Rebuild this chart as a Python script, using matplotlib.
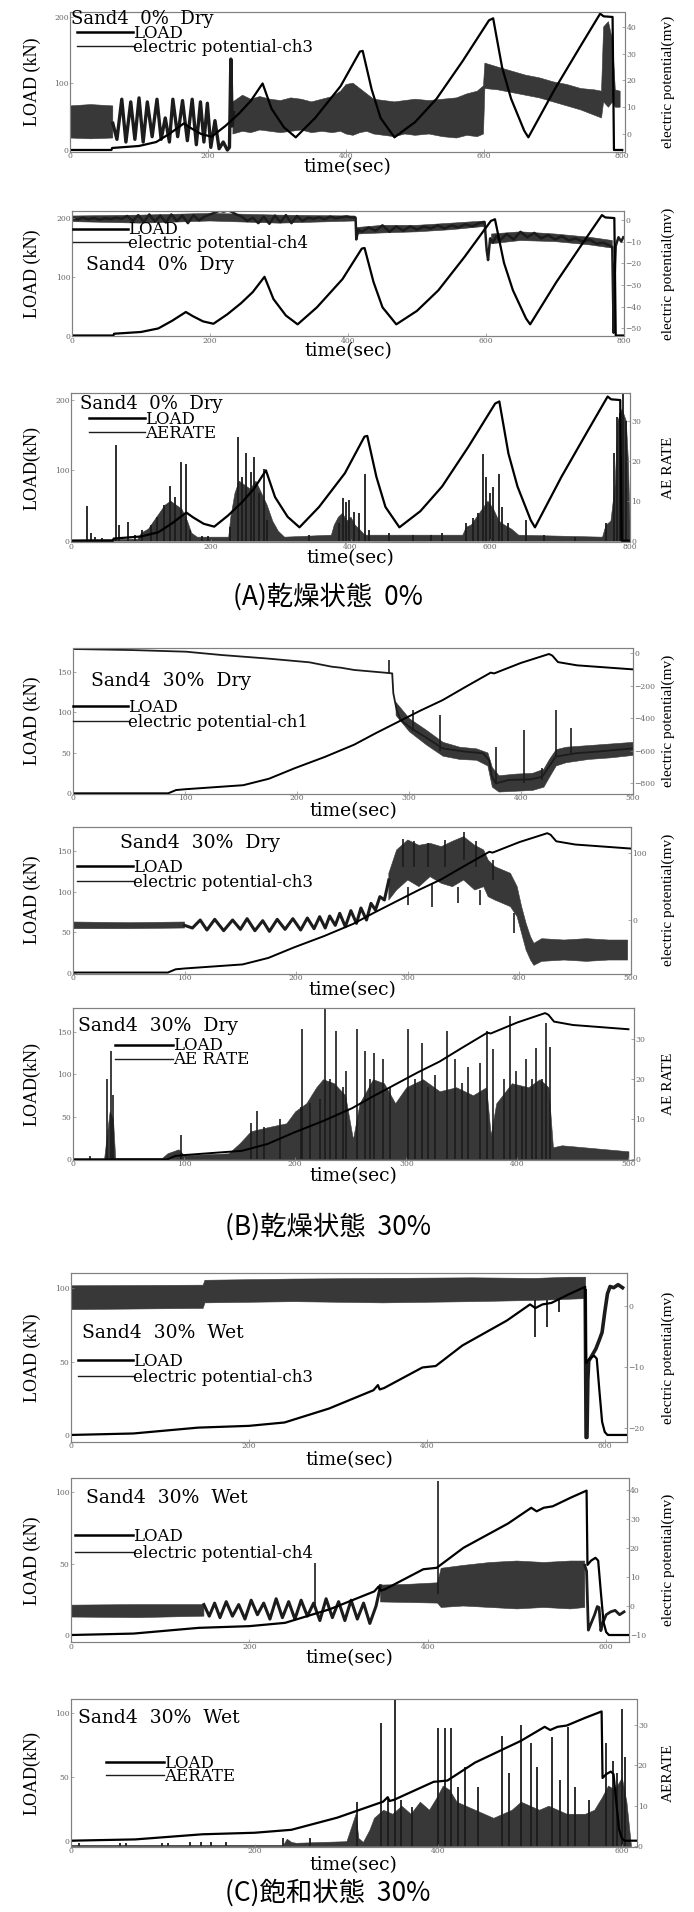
import numpy as np
import matplotlib
matplotlib.use("Agg")
import matplotlib.pyplot as plt
from matplotlib.lines import Line2D
from matplotlib.legend import Legend

nan = np.nan
plt.rcParams['font.family'] = ['DejaVu Serif']

# ================= DATA =================
# ---- Group A : Sand4 0% Dry ----
load_a_t = [0, 60, 61, 100, 125, 145, 165, 175, 190, 205, 225, 245, 262, 279, 292, 310, 327, 355, 392, 420,
            424, 437, 450, 470, 500, 531, 569, 607, 613, 626, 639, 658, 664, 702, 740, 768, 773, 786, 787, 788, 800]
load_a_v = [0, 0, 3, 6, 12, 25, 40, 33, 24, 20, 36, 55, 74, 100, 62, 34, 19, 48, 96, 148,
            149, 91, 48, 19, 42, 77, 134, 195, 198, 124, 77, 29, 19, 91, 157, 205, 201, 200, 100, 0, 0]

p1_band_t = [0, 30, 62, nan, 236, 250, 262, 275, 290, 305, 320, 335, 350, 365, 380, 392, 400, 410, 420, 430,
             440, 455, 470, 485, 500, 520, 540, 560, 575, 590, 599, 601, 620, 640, 660, 680, 700, 720, 740, 760,
             770, 773, 780, 786, 790, 797]
p1_band_lo = [-1.5, -1.8, -1.5, nan, 0, 1, 0.5, 1.5, 1, 0.5, 1, 1.5, 0.5, 1, 0.5, 1, 0, -0.5, 0.5, 1,
              0, -0.5, -1, 0, -0.5, 0, -1, -1.5, -0.5, -1, 0, 17, 16.5, 15.5, 14.5, 13.5, 12, 10.5, 9, 7,
              6, 12, 10, 12, 10, 10]
p1_band_hi = [10.5, 11, 10.5, nan, 12, 14.5, 13, 14, 13, 12.5, 13.5, 13, 12, 13, 14, 16, 18.5, 19, 17, 15,
              13, 12.5, 12, 12.5, 13, 12.5, 13, 13.5, 15, 16, 18, 26.5, 25, 23.5, 22, 21, 19.5, 18.5, 17, 16.5,
              16, 40, 42, 35, 16.5, 16]
p1_wave_t = [62, 68, 75, 81, 88, 94, 100, 106, 112, 119, 126, 132, 138, 144, 149, 156, 163, 170, 177, 183,
             189, 194, 199, 204, 210, 216, 222, 228, 231, 233, 235, 237]
p1_wave_v = [4, -2, 13, -3, 12, -2, 13.5, -3, 12, -1, 13, -2, 6, -3, 13, -1, 12.5, -2.5, 13, -4,
             12, -3, 11.5, -5, 5, -5.5, -3, -6, -5, 28, 3, 8]

p2_ep_t = [0, 8, 16, 24, 32, 40, 48, 56, 64, 72, 80, 88, 96, 104, 112, 120, 128, 136, 144, 152,
           160, 168, 176, 184, 192, 200, 208, 214, 220, 226, 232, 238, 246, 254, 262, 270, 278, 286, 294, 302,
           310, 318, 326, 334, 342, 350, 358, 366, 374, 382, 390, 398, 406, 410,
           411, 412, 415, 420, 430, 440, 450, 460, 470, 480, 490, 500, 510, 520, 530, 540, 550, 560, 570, 580,
           590, 598, 601, 603, 606, 610, 615, 620, 630, 640, 650, 660, 670, 680, 690, 700, 710, 720, 730, 740,
           750, 760, 770, 780, 783, 785, 786, 788, 792, 796, 799]
p2_ep_v = [0.8, 0.2, 1.0, 0.3, 0.9, 0.1, 0.8, 0.4, 1.0, 0.5, 1.8, -0.5, 2.2, -1.0, 2.5, -0.8, 2.0, -1.2, 2.5, -0.5,
           2.0, -1.5, 2.2, -0.2, 1.5, 2.5, 3.5, 4.2, 3.8, 4.5, 3.6, 2.5, 1.5, -0.5, 1.0, -1.5, 1.5, -1.8, 2.0, -1.0,
           2.2, -1.5, 1.8, -0.5, 1.0, 0.5, 1.2, 0.3, 1.5, 0.8, 1.2, 1.6, 1.0, 1.2,
           1.0, -9.0, -4.5, -5.5, -3.5, -5.0, -2.5, -5.5, -3.0, -5.0, -3.0, -4.5, -3.0, -4.0, -2.5, -4.0, -2.5, -3.5, -2.0, -3.0,
           -1.5, -1.0, -14, -18.5, -8.5, -10.5, -7.5, -9.5, -6.5, -9, -5.5, -8, -6, -8.5, -7, -9, -7.5, -9.5, -8.5, -10,
           -9, -11, -10.5, -12, -12.5, -52, -30, -12, -8, -10, -8]
p2_band_t = [0, 100, 200, 300, 410, nan, 413, 450, 500, 550, 598, nan, 608, 650, 700, 750, 783]
p2_band_lo = [-0.8, -1.5, -0.5, -1.5, -0.5, nan, -6.5, -6.0, -5.5, -4.5, -3.0, nan, -11, -9.5, -10, -11.5, -13]
p2_band_hi = [1.8, 2.2, 3.0, 2.2, 1.8, nan, -3.5, -2.5, -2.5, -1.5, -0.5, nan, -6.5, -5.5, -6.5, -8, -9.5]

p3_band_t = [0, 95, 100, 110, 118, 126, 134, 142, 150, 158, 166, 172, 180, 225, 228, 234, 240, 248, 256, 264,
             272, 280, 288, 296, 305, 372, 376, 382, 388, 394, 400, 406, 412, 420, 560, 565, 572, 580, 588, 596,
             604, 612, 620, 630, 640, 760, 765, 772, 778, 782, 788, 794, 797, 800]
p3_band_hi = [0.3, 0.5, 2, 3, 5, 7, 9, 10, 9, 8, 5, 2, 1, 1, 6, 12, 15, 14, 13, 15,
              12, 9, 5, 2.5, 1, 1.5, 4, 6, 7, 5, 6, 4, 3, 1.5, 1.5, 3.5, 4, 6, 8, 10,
              8, 5, 4, 3, 1.5, 1, 4, 5, 14, 30, 33, 30, 20, 0]
p3_spk_t = [23.4, 28, 35, 44, 64.5, 68, 82, 92, 102, 114, 123, 133, 142, 149, 157, 164, 171, 187, 196, 228,
            239, 245, 251, 257, 262, 269, 276, 281, 341, 383, 389, 394, 398, 405, 412, 420.5, 427, 455, 490, 515,
            531, 566, 575, 582, 589, 594, 600, 604, 612, 617, 626, 651, 677, 721, 765, 777, 781, 785, 790.5, 794]
p3_spk_v = [8.75, 1.8, 0.8, 0.6, 24, 4, 4.75, 1.4, 2.7, 4, 6, 9, 13.75, 11, 19.75, 19.2, 2.7, 1.2, 1.2, 3.5,
            25.8, 16, 22, 17.2, 21, 11.8, 17.8, 5.2, 1.4, 4.3, 10.6, 9.75, 10.2, 7.25, 6.8, 16.6, 2.7, 1.8, 1.4, 1.4,
            1.8, 4.3, 5.6, 6.8, 21.7, 16, 11.8, 13.5, 16.7, 8.5, 4.3, 5.2, 1.4, 1, 4.5, 22, 31, 32, 36.8, 30]

# ---- Group B : Sand4 30% Dry ----
load_b_t = [0, 85, 92, 100, 152, 175, 198, 225, 251, 270, 290, 310, 330, 350, 373, 376, 400, 425, 428, 433, 450, 500]
load_b_v = [0, 0, 4, 5, 10, 18, 31, 45, 60, 74, 88, 102, 115, 131, 149, 148, 161, 172, 170, 162, 158, 153]

p4_ep_t = [0, 53, 101, 132, 172, 211, 231, 239, 251, 279, 285, 286, 289, 292.5, 302, 314, 330, 350, 366, 371.5,
           374, 377.5, 389, 409, 419, 425, 431, 449, 468, 500]
p4_ep_v = [24.5, 18, 8, -12, -33, -57, -84, -90, -104, -121, -125, -247, -350, -411, -462, -513, -585, -605, -615, -656,
           -759, -800, -779, -775, -759, -697, -636, -615, -605, -585]
p4_band_t = [288, 300, 315, 330, 345, 360, 370, 374, 380, 395, 410, 420, 425, 431, 440, 460, 480, 500]
p4_band_lo = [-380, -480, -560, -630, -650, -655, -690, -820, -850, -845, -840, -820, -760, -690, -670, -650, -640, -625]
p4_band_hi = [-300, -400, -470, -545, -575, -585, -610, -700, -750, -740, -735, -710, -650, -590, -575, -565, -555, -545]
p4_spk_t = [282, 304, 328, 378, 403, 419, 431, 445]
p4_spk_a = [-121, -480, -600, -800, -800, -780, -640, -620]
p4_spk_b = [-43, -350, -380, -575, -472, -705, -350, -462]

p5_band_t = [0, 50, 100, nan, 283, 290, 300, 310, 320, 330, 340, 350, 360, 368,
             372, 378, 385, 392, 398, 402, 406, 410, 413, 420, 440, 460, 480, 497]
p5_band_lo = [-13, -13, -12, nan, 30, 45, 60, 50, 65, 55, 50, 60, 45, 50,
              35, 30, 25, 20, 5, -20, -45, -60, -68, -62, -60, -62, -60, -60]
p5_band_hi = [-3, -4, -3, nan, 70, 105, 120, 112, 115, 110, 118, 125, 112, 105,
              90, 80, 75, 70, 50, 20, -5, -25, -35, -28, -30, -28, -30, -30]
p5_wave_t = [100, 107, 114, 120, 127, 135, 143, 150, 156, 163, 170, 176, 183, 190, 197, 204, 210, 216, 221, 226,
             230, 235, 239, 244, 249, 254, 258, 263, 267, 271, 275, 279, 283]
p5_wave_v = [-8, -12, 0, -15, 1, -16, 0, -14, 2, -16, -1, -17, 1, -14, 2, -15, 3, -13, 5, -12,
             6, -8, 10, -10, 14, -5, 18, 0, 25, 15, 35, 30, 60]
p5_spk_t = [296, 306, 318, 333, 350, 361, 376, 300, 322, 345, 365, 395]
p5_spk_a = [80, 80, 80, 80, 90, 80, 60, 50, 55, 50, 45, 10]
p5_spk_b = [122, 118, 115, 120, 132, 118, 90, 22, 20, 25, 22, -20]

p6_band_t = [0, 28, 30, 33, 36, 38, 80, 85, 95, 100, 140, 150, 160, 175, 192, 200, 210, 219, 225, 235,
             245, 252, 258, 270, 280, 290, 300, 315, 330, 345, 360, 372, 376, 381, 395, 410, 420, 428, 432, 440,
             460, 480, 500]
p6_band_hi = [0.2, 0.2, 5, 12, 10, 0.3, 0.3, 1.5, 2.5, 1, 1.5, 4, 7, 8, 9, 12, 14, 18, 20, 19,
              16, 5, 14, 20, 19, 14, 18, 20, 17, 18, 16, 18, 6, 14, 19, 18, 20, 18, 3, 3.5,
              3, 2.5, 2]
p6_spk_t = [15, 31, 34, 36, 97, 160, 166, 172, 186, 205, 206, 213, 222, 227, 231, 237, 243, 246, 256, 263,
            267, 271, 279, 285, 302, 308, 314, 320, 326, 337, 344, 350, 356, 366, 373, 378, 388, 393, 399, 404,
            408, 413, 417, 422, 426, 429]
p6_spk_v = [0.8, 20, 27, 16, 6, 9, 12, 8, 10, 13, 32.5, 14, 15, 37.5, 20, 32, 18, 22, 32.5, 27,
            20, 26.5, 25, 18, 32.5, 20, 29, 18, 21, 32, 25, 19, 23, 24, 32, 27.5, 20, 35.7, 22, 18,
            25, 20, 27.7, 20, 34, 28]

# ---- Group C : Sand4 30% Wet ----
load_c_t = [0, 70, 143, 200, 240, 290, 340, 345, 347, 352, 395, 410, 440, 490, 516, 522, 530, 540, 560, 578,
            579, 583, 588, 591, 594, 597, 600, 603, 625]
load_c_v = [0, 1, 5, 6.2, 8.5, 18, 30.5, 34, 31, 32, 46, 47, 61, 78, 89, 86.5, 89, 90, 96, 101,
            49, 52, 54, 52, 30, 9, 2, 0, 0]

p7_band_t = [0, 148, 150, 250, 350, 450, 520, 560, 578]
p7_band_lo = [-0.5, -0.3, 0.6, 0.8, 0.6, 0.8, 1.0, 1.2, 1.3]
p7_band_hi = [3.4, 3.5, 4.3, 4.5, 4.6, 4.7, 4.6, 4.8, 4.8]
p7_post_t = [578, 579, 580, 581, 582, 586, 590, 594, 597, 600, 603, 606, 610, 615, 620]
p7_post_v = [2.5, -21.5, -21.5, -12, -9, -8, -7, -5.5, -4.3, -1, 2, 3.2, 3, 3.5, 3]
p7_dip_t = [521.6, 535, 548]
p7_dip_a = [1, 1, 1.2]
p7_dip_b = [-5, -3.5, -1]

p8_band_t = [0, 75, 149, nan, 347, 380, 411, 415, 440, 470, 500, 530, 560, 576]
p8_band_lo = [-3.8, -4, -3.5, nan, 1.4, 1.2, 1.0, -0.5, 0, -0.5, -1, -0.5, -1, -0.5]
p8_band_hi = [0.3, 0.5, 0.5, nan, 7.2, 7.5, 8, 13, 14, 15, 15.5, 15, 15.5, 15.5]
p8_wave_t = [149, 155, 161, 167, 174, 181, 188, 195, 202, 209, 216, 223, 230, 237, 244, 251, 258, 265, 272, 279,
             286, 293, 300, 307, 314, 321, 328, 335, 342, 347]
p8_wave_v = [0.5, -3.5, 1, -4, 1.5, -3.5, 0.5, -4.5, 2, -3, 1, -4.5, 2.5, -4, 1.5, -4.5, 2, -3.5, 1, -5,
             2.5, -4, 1.5, -5, 2, -4.5, 1, -6, 0, 7]
p8_post_t = [576, 578, 580, 583, 587, 590, 592, 594, 596, 600, 605, 610, 615, 620]
p8_post_v = [14, 12, -8.3, -6, -3, -0.2, -0.5, -8.5, -6, -3, -2, -1.5, -3, -2]
p8_spk_t = [274, 411]
p8_spk_a = [0, 4]
p8_spk_b = [14.8, 43]

p9_band_t = [0, 110, 231, 235, 240, 245, 300, 310, 313, 318, 325, 330, 340, 350, 360, 370, 380, 390, 398, 405,
             412, 420, 430, 440, 450, 460, 470, 480, 490, 500, 510, 520, 530, 540, 550, 560, 570, 578, 585, 592,
             600, 605, 610]
p9_band_hi = [0.3, 0.3, 0.3, 1.8, 1.0, 0.8, 1.2, 8, 2, 1, 4, 7, 9, 8, 10, 8, 11, 9, 12, 15,
              14, 11, 10, 9, 8, 7, 8, 9, 11, 10, 9, 10, 9, 8, 8, 8, 9, 12, 15, 14,
              17, 11, 0]
p9_spk_t = [8.7, 53, 60, 99, 106, 130, 142, 152, 169, 231, 260, 312, 338, 345, 353, 359, 371, 400, 407, 413.5,
            422, 429, 443, 470, 477, 490.6, 501, 508, 524, 532.5, 541, 549, 564, 583, 590, 595, 600, 603]
p9_spk_v = [0.8, 0.8, 0.8, 0.8, 0.8, 0.9, 0.9, 0.9, 0.9, 1.9, 1.9, 11, 30.4, 12.2, 36.2, 11.4, 9.8, 29.2, 29.2, 29.2,
            14.7, 19.7, 14.7, 27.3, 18, 30, 25.5, 19.7, 27.1, 16.4, 29.6, 14.7, 11.4, 25.5, 21, 18, 34, 22]

captions = ['(A)乾燥状態  0%', '(B)乾燥状態  30%', '(C)飽和状態  30%']

# ================= LAYOUT / STYLE =================
W, H = 694, 1912
fig = plt.figure(figsize=(W / 100, H / 100), dpi=100)

K = 'black'
NOISE = '#1c1c1c'
FILL = '#383838'
LEG_SIZE = 12
LEG_PX = LEG_SIZE * 100 / 72


def make_panel(box, xlim, ylim, y2lim, xticks, yticks, y2ticks):
    l, r, t, b = box
    ax = fig.add_axes([l / W, 1 - b / H, (r - l) / W, (b - t) / H])
    ax2 = ax.twinx()
    ax.set_zorder(ax2.get_zorder() + 1)
    ax.patch.set_visible(False)
    ax.set_xlim(*xlim)
    ax.set_ylim(*ylim)
    ax2.set_ylim(*y2lim)
    ax.set_xticks(xticks)
    ax.set_yticks(yticks)
    ax2.set_yticks(y2ticks)
    for a in (ax, ax2):
        for s in a.spines.values():
            s.set_linestyle((0, (1, 1)))
            s.set_color('#808080')
            s.set_linewidth(0.8)
        a.tick_params(direction='in', length=2, width=0.5, color='#888888',
                      labelsize=5.5, labelcolor='#666666', pad=1.0)
    ax.tick_params(axis='x', pad=0.5)
    return ax, ax2


def annotate(ax, box, title, title_xy, leg, ylab, y2lab, xlab_y, title_size=13.5):
    l, r, t, b = box
    fx = lambda x: (x - l) / (r - l)
    fy = lambda y: (b - y) / (b - t)
    ax.text(fx(title_xy[0]), fy(title_xy[1]), title, transform=ax.transAxes,
            ha='left', va='center', fontsize=title_size, family='DejaVu Serif')
    hx, tx, y1, y2, lab2 = leg
    hl = (tx - hx) / LEG_PX
    for lab, lw, col, yy in (('LOAD', 1.8, K, y1), (lab2, 1.0, NOISE, y2)):
        lg = Legend(ax, [Line2D([], [], color=col, lw=lw)], [lab], loc='center left',
                    bbox_to_anchor=(fx(hx), fy(yy)), bbox_transform=ax.transAxes,
                    frameon=False, handlelength=hl, handletextpad=0.0, borderpad=0,
                    borderaxespad=0, prop=dict(family='DejaVu Serif', size=LEG_SIZE))
        ax.add_artist(lg)
    fig.text(32 / W, 1 - (t + b) / 2 / H, ylab, rotation=90, ha='center', va='center',
             family=['Liberation Serif', 'DejaVu Serif'], fontsize=13)
    fig.text(668 / W, 1 - (t + b) / 2 / H, y2lab, rotation=90, ha='center', va='center',
             family=['Liberation Serif', 'DejaVu Serif'], fontsize=11)
    fig.text((l + r) / 2 / W, 1 - (xlab_y + 3) / H, 'time(sec)', ha='center', va='center',
             family='DejaVu Serif', fontsize=13.5)


def caption(text, y):
    fig.text(328 / W, 1 - y / H, text, ha='center', va='center',
             family=['Noto Sans CJK JP', 'DejaVu Sans'], fontsize=19)


EPL = 'electric potential(mv)'

# ---------- Panel 1 ----------
box = (70, 625, 12, 151.5)
ax, ax2 = make_panel(box, (0, 804), (-2.3, 207.5), (-6.54, 45.6), [0, 200, 400, 600, 800], [0, 100, 200], [0, 10, 20, 30, 40])
ax2.fill_between(p1_band_t, p1_band_lo, p1_band_hi, color=FILL, lw=0.4)
ax2.plot(p1_wave_t, p1_wave_v, color=NOISE, lw=2.4)
ax.plot(load_a_t, load_a_v, color=K, lw=1.6)
annotate(ax, box, 'Sand4  0%  Dry', (71, 18.5), (77, 133, 33.5, 47.5, 'electric potential-ch3'), 'LOAD (kN)', EPL, 164.3,
         title_size=13)

# ---------- Panel 2 ----------
box = (72, 624, 211, 336)
ax, ax2 = make_panel(box, (0, 800), (-0.85, 212), (-53.5, 4.1), [0, 200, 400, 600, 800], [0, 100, 200], [0, -10, -20, -30, -40, -50])
ax2.fill_between(p2_band_t, p2_band_lo, p2_band_hi, color=FILL, lw=0.4)
ax2.plot(p2_ep_t, p2_ep_v, color=NOISE, lw=1.8)
ax.plot(load_a_t, load_a_v, color=K, lw=1.6)
annotate(ax, box, 'Sand4  0%  Dry', (86, 265), (73, 128, 230, 243.5, 'electric potential-ch4'), 'LOAD (kN)', EPL, 348.3)

# ---------- Panel 3 ----------
box = (71, 630, 393, 542)
ax, ax2 = make_panel(box, (0, 800), (-1.85, 210), (-0.33, 36.9), [0, 200, 400, 600, 800], [0, 100, 200], [0, 10, 20, 30])
ax2.fill_between(p3_band_t, 0, p3_band_hi, color=FILL, lw=0.4)
ax2.vlines(p3_spk_t, 0, p3_spk_v, color=NOISE, lw=1.3)
ax.plot(load_a_t, load_a_v, color=K, lw=1.6)
annotate(ax, box, 'Sand4  0%  Dry', (80, 404), (88.5, 145, 419, 433, 'AERATE'), 'LOAD(kN)', 'AE RATE', 555,
         title_size=13)
caption(captions[0], 597)

# ---------- Panel 4 ----------
box = (73, 633, 648, 793.5)
ax, ax2 = make_panel(box, (0, 500), (-0.25, 179.4), (-862, 30.7), [0, 100, 200, 300, 400, 500], [0, 50, 100, 150], [0, -200, -400, -600, -800])
ax2.fill_between(p4_band_t, p4_band_lo, p4_band_hi, color=FILL, lw=0.4)
ax2.plot(p4_ep_t, p4_ep_v, color=NOISE, lw=1.3)
ax2.vlines(p4_spk_t, p4_spk_a, p4_spk_b, color=NOISE, lw=1.2)
ax.plot(load_b_t, load_b_v, color=K, lw=1.4)
annotate(ax, box, 'Sand4  30%  Dry', (91, 680.7), (73, 128, 707.7, 722.7, 'electric potential-ch1'), 'LOAD (kN)', EPL, 808)

# ---------- Panel 5 ----------
box = (73, 631, 826.7, 973.5)
ax, ax2 = make_panel(box, (0, 500), (-1.2, 180), (-80.2, 139.9), [0, 100, 200, 300, 400, 500], [0, 50, 100, 150], [0, 100])
ax2.fill_between(p5_band_t, p5_band_lo, p5_band_hi, color=FILL, lw=0.4)
ax2.plot(p5_wave_t, p5_wave_v, color=NOISE, lw=2.2)
ax2.vlines(p5_spk_t, p5_spk_a, p5_spk_b, color=NOISE, lw=1.2)
ax.plot(load_b_t, load_b_v, color=K, lw=1.4)
annotate(ax, box, 'Sand4  30%  Dry', (119.5, 843.3), (77, 133, 867.3, 882.3, 'electric potential-ch3'), 'LOAD (kN)', EPL, 986.7)

# ---------- Panel 6 ----------
box = (73, 634, 1008, 1159.5)
ax, ax2 = make_panel(box, (0, 505), (-0.2, 178), (-0.05, 37.8), [0, 100, 200, 300, 400, 500], [0, 50, 100, 150], [0, 10, 20, 30])
ax2.fill_between(p6_band_t, 0, p6_band_hi, color=FILL, lw=0.4)
ax2.vlines(p6_spk_t, 0, p6_spk_v, color=NOISE, lw=1.2)
ax.plot(load_b_t, load_b_v, color=K, lw=1.4)
annotate(ax, box, 'Sand4  30%  Dry', (77.5, 1026), (115, 172.6, 1046, 1060, 'AE RATE'), 'LOAD(kN)', 'AE RATE', 1173.3)
caption(captions[1], 1226.7)

# ---------- Panel 7 ----------
box = (71, 627, 1273.3, 1441.7)
ax, ax2 = make_panel(box, (0, 625), (-4.6, 110.2), (-22.2, 5.36), [0, 200, 400, 600], [0, 50, 100], [0, -10, -20])
ax2.fill_between(p7_band_t, p7_band_lo, p7_band_hi, color=FILL, lw=0.4)
ax2.vlines(p7_dip_t, p7_dip_a, p7_dip_b, color=NOISE, lw=1.3)
ax2.plot(p7_post_t, p7_post_v, color=NOISE, lw=2.6)
ax.plot(load_c_t, load_c_v, color=K, lw=1.6)
annotate(ax, box, 'Sand4  30%  Wet', (82, 1333.3), (77.5, 133, 1361, 1377.3, 'electric potential-ch3'), 'LOAD (kN)', EPL, 1456.7)

# ---------- Panel 8 ----------
box = (71, 628.5, 1478.3, 1642.3)
ax, ax2 = make_panel(box, (0, 625), (-5.1, 109.6), (-12.5, 44), [0, 200, 400, 600], [0, 50, 100], [-10, 0, 10, 20, 30, 40])
ax2.fill_between(p8_band_t, p8_band_lo, p8_band_hi, color=FILL, lw=0.4)
ax2.plot(p8_wave_t, p8_wave_v, color=NOISE, lw=2.2)
ax2.plot(p8_post_t, p8_post_v, color=NOISE, lw=2.0)
ax2.vlines(p8_spk_t, p8_spk_a, p8_spk_b, color=NOISE, lw=1.2)
ax.plot(load_c_t, load_c_v, color=K, lw=1.6)
annotate(ax, box, 'Sand4  30%  Wet', (86, 1498.3), (75, 133, 1536.7, 1553.3, 'electric potential-ch4'), 'LOAD (kN)', EPL, 1655)

# ---------- Panel 9 ----------
box = (71, 636.5, 1699.3, 1846.7)
ax, ax2 = make_panel(box, (0, 616), (-4.7, 110.5), (-0.17, 36.4), [0, 200, 400, 600], [0, 50, 100], [0, 10, 20, 30])
ax2.fill_between(p9_band_t, 0, p9_band_hi, color=FILL, lw=0.4)
ax2.vlines(p9_spk_t, 0, p9_spk_v, color=NOISE, lw=1.3)
ax.plot(load_c_t, load_c_v, color=K, lw=1.6)
annotate(ax, box, 'Sand4  30%  Wet', (77.5, 1718.3), (106, 164, 1763.3, 1776.7, 'AERATE'), 'LOAD(kN)', 'AERATE', 1861.7)
caption(captions[2], 1893)

fig.savefig('out.png', dpi=100)
